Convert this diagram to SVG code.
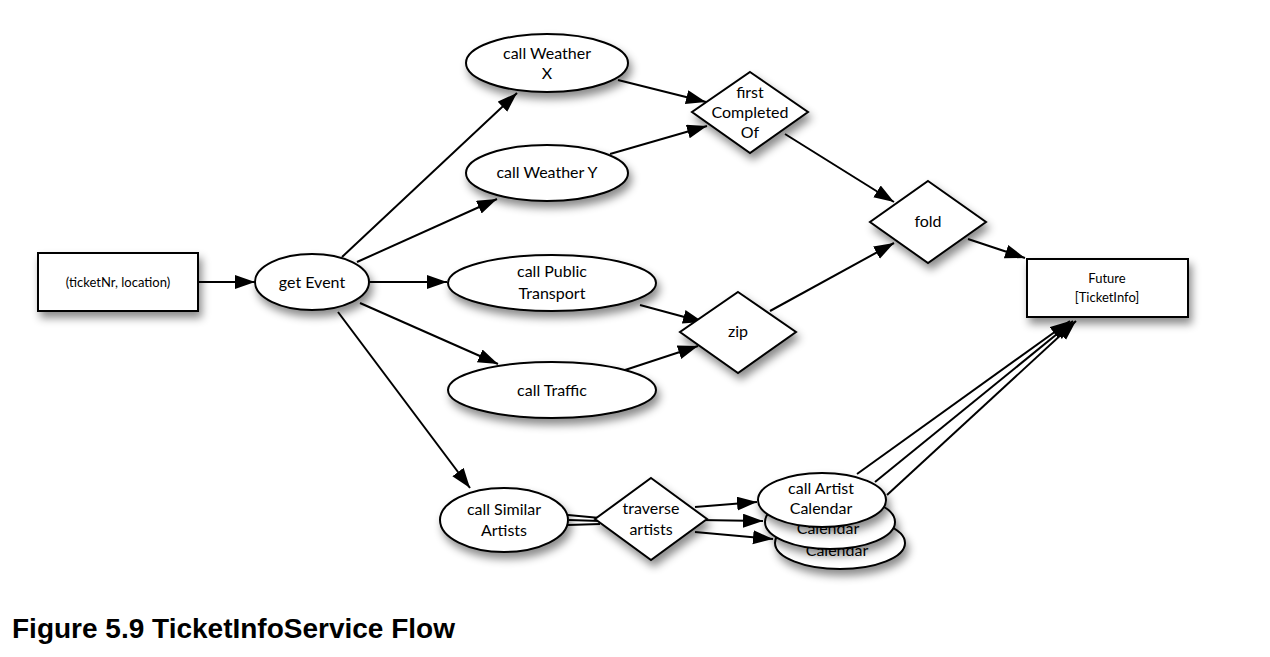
<svg xmlns="http://www.w3.org/2000/svg" width="1270" height="657" viewBox="0 0 1270 657">
<style>
.shape{fill:#fff;stroke:#000;stroke-width:2;filter:url(#sh)}
.t{font-family:Lato,"Liberation Sans",sans-serif;font-size:16px;fill:#000;text-anchor:middle}
.s{font-size:13px}
.e{fill:none;stroke:#000;stroke-width:2}
.a{marker-end:url(#ah)}
.title{font-family:"Liberation Sans",Arial,sans-serif;font-weight:bold;font-size:28px;fill:#000}
</style>
<defs>
<filter id="sh" x="-30%" y="-30%" width="160%" height="180%">
<feDropShadow dx="3" dy="6" stdDeviation="4" flood-color="#000" flood-opacity="0.45"/>
</filter>
<marker id="ah" markerUnits="userSpaceOnUse" markerWidth="22" markerHeight="16" refX="20" refY="7" orient="auto">
<path d="M0,0 L20,7 L0,14 z" fill="#000"/>
</marker>
</defs>
<rect width="1270" height="657" fill="#fff"/>

<g id="connectors">
<line class="e a" x1="198" y1="282" x2="255" y2="282"/>
<line class="e a" x1="342" y1="257" x2="517" y2="93"/>
<line class="e a" x1="357" y1="262" x2="497" y2="199"/>
<line class="e a" x1="370" y1="282" x2="447" y2="282"/>
<line class="e a" x1="360" y1="303" x2="498" y2="364"/>
<line class="e a" x1="338" y1="312" x2="470" y2="488"/>
<line class="e a" x1="618" y1="80" x2="706" y2="102"/>
<line class="e a" x1="610" y1="154" x2="707" y2="126"/>
<line class="e a" x1="785" y1="134" x2="894" y2="202"/>
<line class="e a" x1="640" y1="305" x2="703" y2="322"/>
<line class="e a" x1="622" y1="371" x2="698" y2="346"/>
<line class="e a" x1="770" y1="311" x2="894" y2="243"/>
<line class="e a" x1="968" y1="239" x2="1025" y2="258"/>
<line class="e" x1="568" y1="515" x2="600" y2="518"/>
<line class="e" x1="569" y1="520" x2="600" y2="521"/>
<line class="e" x1="568" y1="525" x2="600" y2="524"/>
<line class="e a" x1="695" y1="507" x2="757" y2="502"/>
<line class="e a" x1="699" y1="520" x2="763" y2="521"/>
<line class="e a" x1="695" y1="532" x2="773" y2="539"/>
<line class="e a" x1="857" y1="474" x2="1070" y2="321"/>
<line class="e a" x1="875" y1="482" x2="1073" y2="321"/>
<line class="e a" x1="887" y1="495" x2="1076" y2="321"/>
</g>

<g id="input">
<rect class="shape" x="38" y="253" width="160" height="58"/>
<text class="t s" x="118" y="287">(ticketNr, location)</text>
</g>
<g id="getEvent">
<ellipse class="shape" cx="312" cy="282" rx="57" ry="28"/>
<text class="t" x="312" y="288">get Event</text>
</g>
<g id="weatherX">
<ellipse class="shape" cx="547" cy="63" rx="81" ry="29"/>
<text class="t" x="547" y="59">call Weather</text>
<text class="t" x="547" y="79">X</text>
</g>
<g id="weatherY">
<ellipse class="shape" cx="547" cy="173" rx="81" ry="28"/>
<text class="t" x="547" y="178">call Weather Y</text>
</g>
<g id="publicTransport">
<ellipse class="shape" cx="552" cy="283" rx="104" ry="28"/>
<text class="t" x="552" y="277">call Public</text>
<text class="t" x="552" y="299">Transport</text>
</g>
<g id="traffic">
<ellipse class="shape" cx="552" cy="390" rx="104" ry="28"/>
<text class="t" x="552" y="396">call Traffic</text>
</g>
<g id="similarArtists">
<ellipse class="shape" cx="504" cy="520" rx="64" ry="32"/>
<text class="t" x="504" y="515">call Similar</text>
<text class="t" x="504" y="536">Artists</text>
</g>
<g id="firstCompletedOf">
<polygon class="shape" points="750,72 808,112 750,153 692,112"/>
<text class="t" x="750" y="98">first</text>
<text class="t" x="750" y="118">Completed</text>
<text class="t" x="750" y="138">Of</text>
</g>
<g id="zip">
<polygon class="shape" points="738,292 796,332 738,373 680,332"/>
<text class="t" x="738" y="337">zip</text>
</g>
<g id="fold">
<polygon class="shape" points="928,181 986,222 928,263 870,222"/>
<text class="t" x="928" y="227">fold</text>
</g>
<g id="traverseArtists">
<polygon class="shape" points="651,478 707,519 651,560 595,519"/>
<text class="t" x="651" y="514">traverse</text>
<text class="t" x="651" y="535">artists</text>
</g>
<g id="artistCalendar3">
<ellipse class="shape" cx="840" cy="543" rx="65" ry="26"/>
<text class="t" x="837" y="556">Calendar</text>
</g>
<g id="artistCalendar2">
<ellipse class="shape" cx="830" cy="522" rx="65" ry="27"/>
<text class="t" x="828" y="534">Calendar</text>
</g>
<g id="artistCalendar1">
<ellipse class="shape" cx="822" cy="500" rx="64" ry="27"/>
<text class="t" x="821" y="494">call Artist</text>
<text class="t" x="821" y="514">Calendar</text>
</g>
<g id="future">
<rect class="shape" x="1027" y="259" width="161" height="58"/>
<text class="t s" x="1107" y="283">Future</text>
<text class="t s" x="1107" y="302">[TicketInfo]</text>
</g>
<text class="title" x="12" y="638">Figure 5.9 TicketInfoService Flow</text>
</svg>
